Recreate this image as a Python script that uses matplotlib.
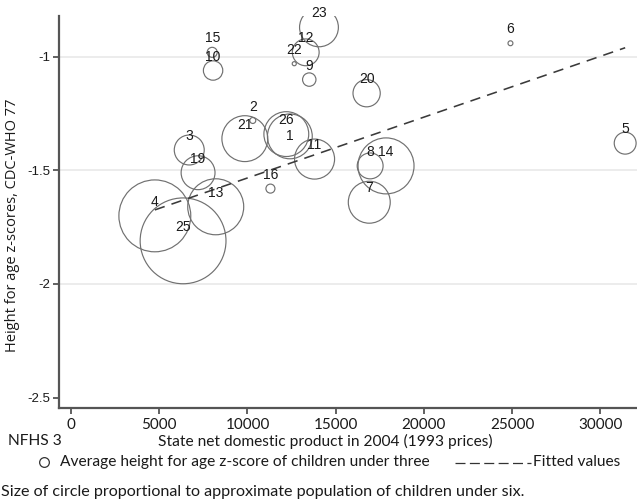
import numpy as np
import matplotlib
matplotlib.use('Agg')
import matplotlib.pyplot as plt
from matplotlib.lines import Line2D

# state ids, net domestic product 2004 (1993 prices), mean height-for-age z-score
state_id = ['1', '2', '3', '4', '5', '6', '7', '8', '9', '10', '11', '12', '13',
            '14', '15', '16', '19', '20', '21', '22', '23', '25', '26']
sndp = [12400, 10300, 6700, 4750, 31400, 24900, 16900, 16950, 13500, 8050, 13800,
        13300, 8200, 17850, 8000, 11300, 7200, 16750, 9850, 12650, 14050, 6350, 12200]
haz = [-1.35, -1.28, -1.41, -1.70, -1.38, -0.94, -1.64, -1.48, -1.10, -1.06, -1.45,
       -0.98, -1.66, -1.48, -0.98, -1.58, -1.51, -1.16, -1.36, -1.03, -0.87, -1.81, -1.34]
# approx. children under six (millions), used as weights
pop = [8.4, 0.15, 3.75, 21.6, 2.0, 0.1, 7.35, 2.8, 0.75, 1.57, 6.7, 3.0, 13.1,
       13.1, 0.42, 0.34, 4.8, 3.1, 8.8, 0.07, 6.3, 30.8, 8.4]

fit_intercept = -1.801
fit_slope = 2.679e-5

yticks = [-2.5, -2, -1.5, -1]
ytick_labels = ['-2.5', '-2', '-1.5', '-1']
xticks = [0, 5000, 10000, 15000, 20000, 25000, 30000]

edge = '#707070'
ink = '#1a1a1a'
note_size = 11.2

fig = plt.figure(figsize=(6.37, 5.03), dpi=100)
ax = fig.add_axes([59/637, 1 - 408/503, 1 - 59/637, (408 - 16)/503])
ax.set_xlim(-680, 32070)
ax.set_ylim(-2.546, -0.82)

for y in [-2, -1.5, -1]:
    ax.axhline(y, color='#ececec', lw=1.4, zorder=0)

x = np.array(sndp)
ax.scatter(x, haz, s=np.array(pop) * 124, facecolors='none', edgecolors=edge,
           linewidths=0.85, zorder=2)

xf = np.array([x.min(), x.max()])
ax.plot(xf, fit_intercept + fit_slope * xf, color='#3a3a3a', lw=1.15,
        dashes=(6.5, 4.5), zorder=3)

# point labels sit above the marker, except state 1 which sits on it
label_dy = {'1': 0}
for sid, xv, yv in zip(state_id, sndp, haz):
    ax.annotate(sid, (xv, yv), xytext=(0, label_dy.get(sid, 10)),
                textcoords='offset points', ha='center', va='center',
                fontsize=10, color=ink, family='Liberation Sans', zorder=4)

for side in ['top', 'right']:
    ax.spines[side].set_visible(False)
for side in ['left', 'bottom']:
    ax.spines[side].set_color('#555555')
    ax.spines[side].set_linewidth(1.6)

ax.set_yticks(yticks)
ax.set_yticklabels(ytick_labels, family='Liberation Sans', fontsize=9.5, color=ink)
ax.set_xticks(xticks)
ax.set_xticklabels([str(t) for t in xticks], family='Lato', fontsize=11, color=ink)
ax.tick_params(axis='both', length=4.5, width=1.3, color='#555555', pad=2)
ax.tick_params(axis='x', pad=3)

ax.set_ylabel('Height for age z-scores, CDC-WHO 77', family='Open Sans',
              fontsize=10.5, color=ink)
ax.yaxis.set_label_coords(-0.067, 0.465)

# notes and key below the plot
fig.text(8/637, 1 - 441/503, 'NFHS 3', family='Lato', fontsize=note_size,
         color=ink, va='center', ha='left')
fig.text(325/637, 1 - 441/503, 'State net domestic product in 2004 (1993 prices)',
         family='Lato', fontsize=note_size, color=ink, va='center', ha='center')

fig.add_artist(Line2D([44/637], [1 - 462/503], marker='o', markersize=7,
                      markerfacecolor='none', markeredgecolor='#333333',
                      markeredgewidth=0.9, linestyle='none', transform=fig.transFigure))
fig.text(60/637, 1 - 462/503, 'Average height for age z-score of children under three',
         family='Lato', fontsize=note_size, color=ink, va='center', ha='left')
fig.add_artist(Line2D([455/637, 531/637], [1 - 463/503, 1 - 463/503], color='#333333',
                      lw=0.9, dashes=(8, 3.5), transform=fig.transFigure))
fig.text(533/637, 1 - 462/503, 'Fitted values', family='Lato', fontsize=note_size,
         color=ink, va='center', ha='left')
fig.text(1/637, 1 - 492/503,
         'Size of circle proportional to approximate population of children under six.',
         family='Lato', fontsize=11.6, color=ink, va='center', ha='left')

fig.savefig('out.png', dpi=100)
